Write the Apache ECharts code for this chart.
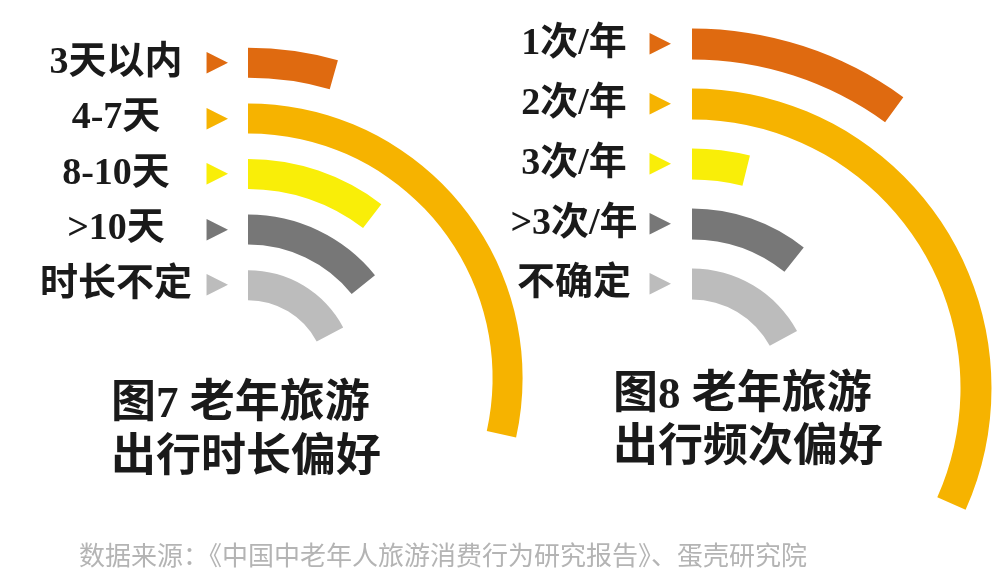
<!DOCTYPE html>
<html>
<head>
<meta charset="utf-8">
<title>老年旅游出行偏好</title>
<script src="https://cdn.jsdelivr.net/npm/echarts@6/dist/echarts.min.js"></script>
<style>
html, body { margin: 0; padding: 0; background: #fff; }
#chart { width: 1000px; height: 580px; }
</style>
</head>
<body>
<div id="chart"></div>
<script>
// 图7 出行时长偏好（由内圈到外圈），数值为弧长角度
var durCats = ['时长不定', '>10天', '8-10天', '4-7天', '3天以内'];
var durVals = [62, 51, 37.5, 102.5, 15.8];
// 图8 出行频次偏好（由内圈到外圈）
var freqCats = ['不确定', '>3次/年', '3次/年', '2次/年', '1次/年'];
var freqVals = [61.5, 38.5, 14, 114, 36];

var colors = ['#bcbcbc', '#777777', '#f9ee08', '#f6b300', '#df6a10'];
var fontMix = '"Liberation Serif", "Noto Sans CJK SC", sans-serif';

function labelRich(nameWidth) {
    var rich = {
        n: { width: nameWidth, align: 'center', fontSize: 38, fontWeight: 'bold', color: '#1a1a1a', fontFamily: fontMix }
    };
    colors.forEach(function (c, i) {
        rich['t' + i] = { width: 24, align: 'right', fontSize: 28, color: c, fontFamily: 'DejaVu Sans' };
    });
    return rich;
}

function radiusAxis(idx, cats, nameWidth, margin) {
    return {
        polarIndex: idx,
        type: 'category',
        data: cats,
        axisLine: { show: false },
        axisTick: { show: false },
        splitLine: { show: false },
        axisLabel: {
            interval: 0,
            margin: margin,
            formatter: function (v, i) { return '{n|' + v + '}{t' + i + '|▶}'; },
            rich: labelRich(nameWidth)
        }
    };
}

function angleAxis(idx) {
    return {
        polarIndex: idx, type: 'value', min: 0, max: 360, startAngle: 90,
        axisLine: { show: false }, axisTick: { show: false },
        axisLabel: { show: false }, splitLine: { show: false }
    };
}

function barSeries(idx, vals, width) {
    return {
        type: 'bar',
        coordinateSystem: 'polar',
        polarIndex: idx,
        barWidth: width,
        silent: true,
        data: vals.map(function (v, i) {
            return { value: v, itemStyle: { color: colors[i] } };
        })
    };
}

var chart = echarts.init(document.getElementById('chart'));
chart.setOption({
    backgroundColor: '#fff',
    animation: false,
    polar: [
        { center: [248, 378], radius: [65, 343] },
        { center: [692, 388], radius: [74, 374] }
    ],
    angleAxis: [angleAxis(0), angleAxis(1)],
    radiusAxis: [radiusAxis(0, durCats, 176, 20), radiusAxis(1, freqCats, 146, 21)],
    series: [barSeries(0, durVals, 30), barSeries(1, freqVals, 31)],
    graphic: [
        {
            type: 'text', left: 111, top: 378,
            style: { text: '图7 老年旅游\n出行时长偏好', font: 'bold 45px ' + fontMix, lineHeight: 54, fill: '#1a1a1a' }
        },
        {
            type: 'text', left: 613, top: 370,
            style: { text: '图8 老年旅游\n出行频次偏好', font: 'bold 45px ' + fontMix, lineHeight: 53, fill: '#1a1a1a' }
        },
        {
            type: 'text', left: 79, top: 540,
            style: { text: '数据来源：《中国中老年人旅游消费行为研究报告》、蛋壳研究院', font: '26px "Noto Sans CJK SC"', lineHeight: 30, fill: '#b4b4b4' }
        }
    ]
});
</script>
</body>
</html>
